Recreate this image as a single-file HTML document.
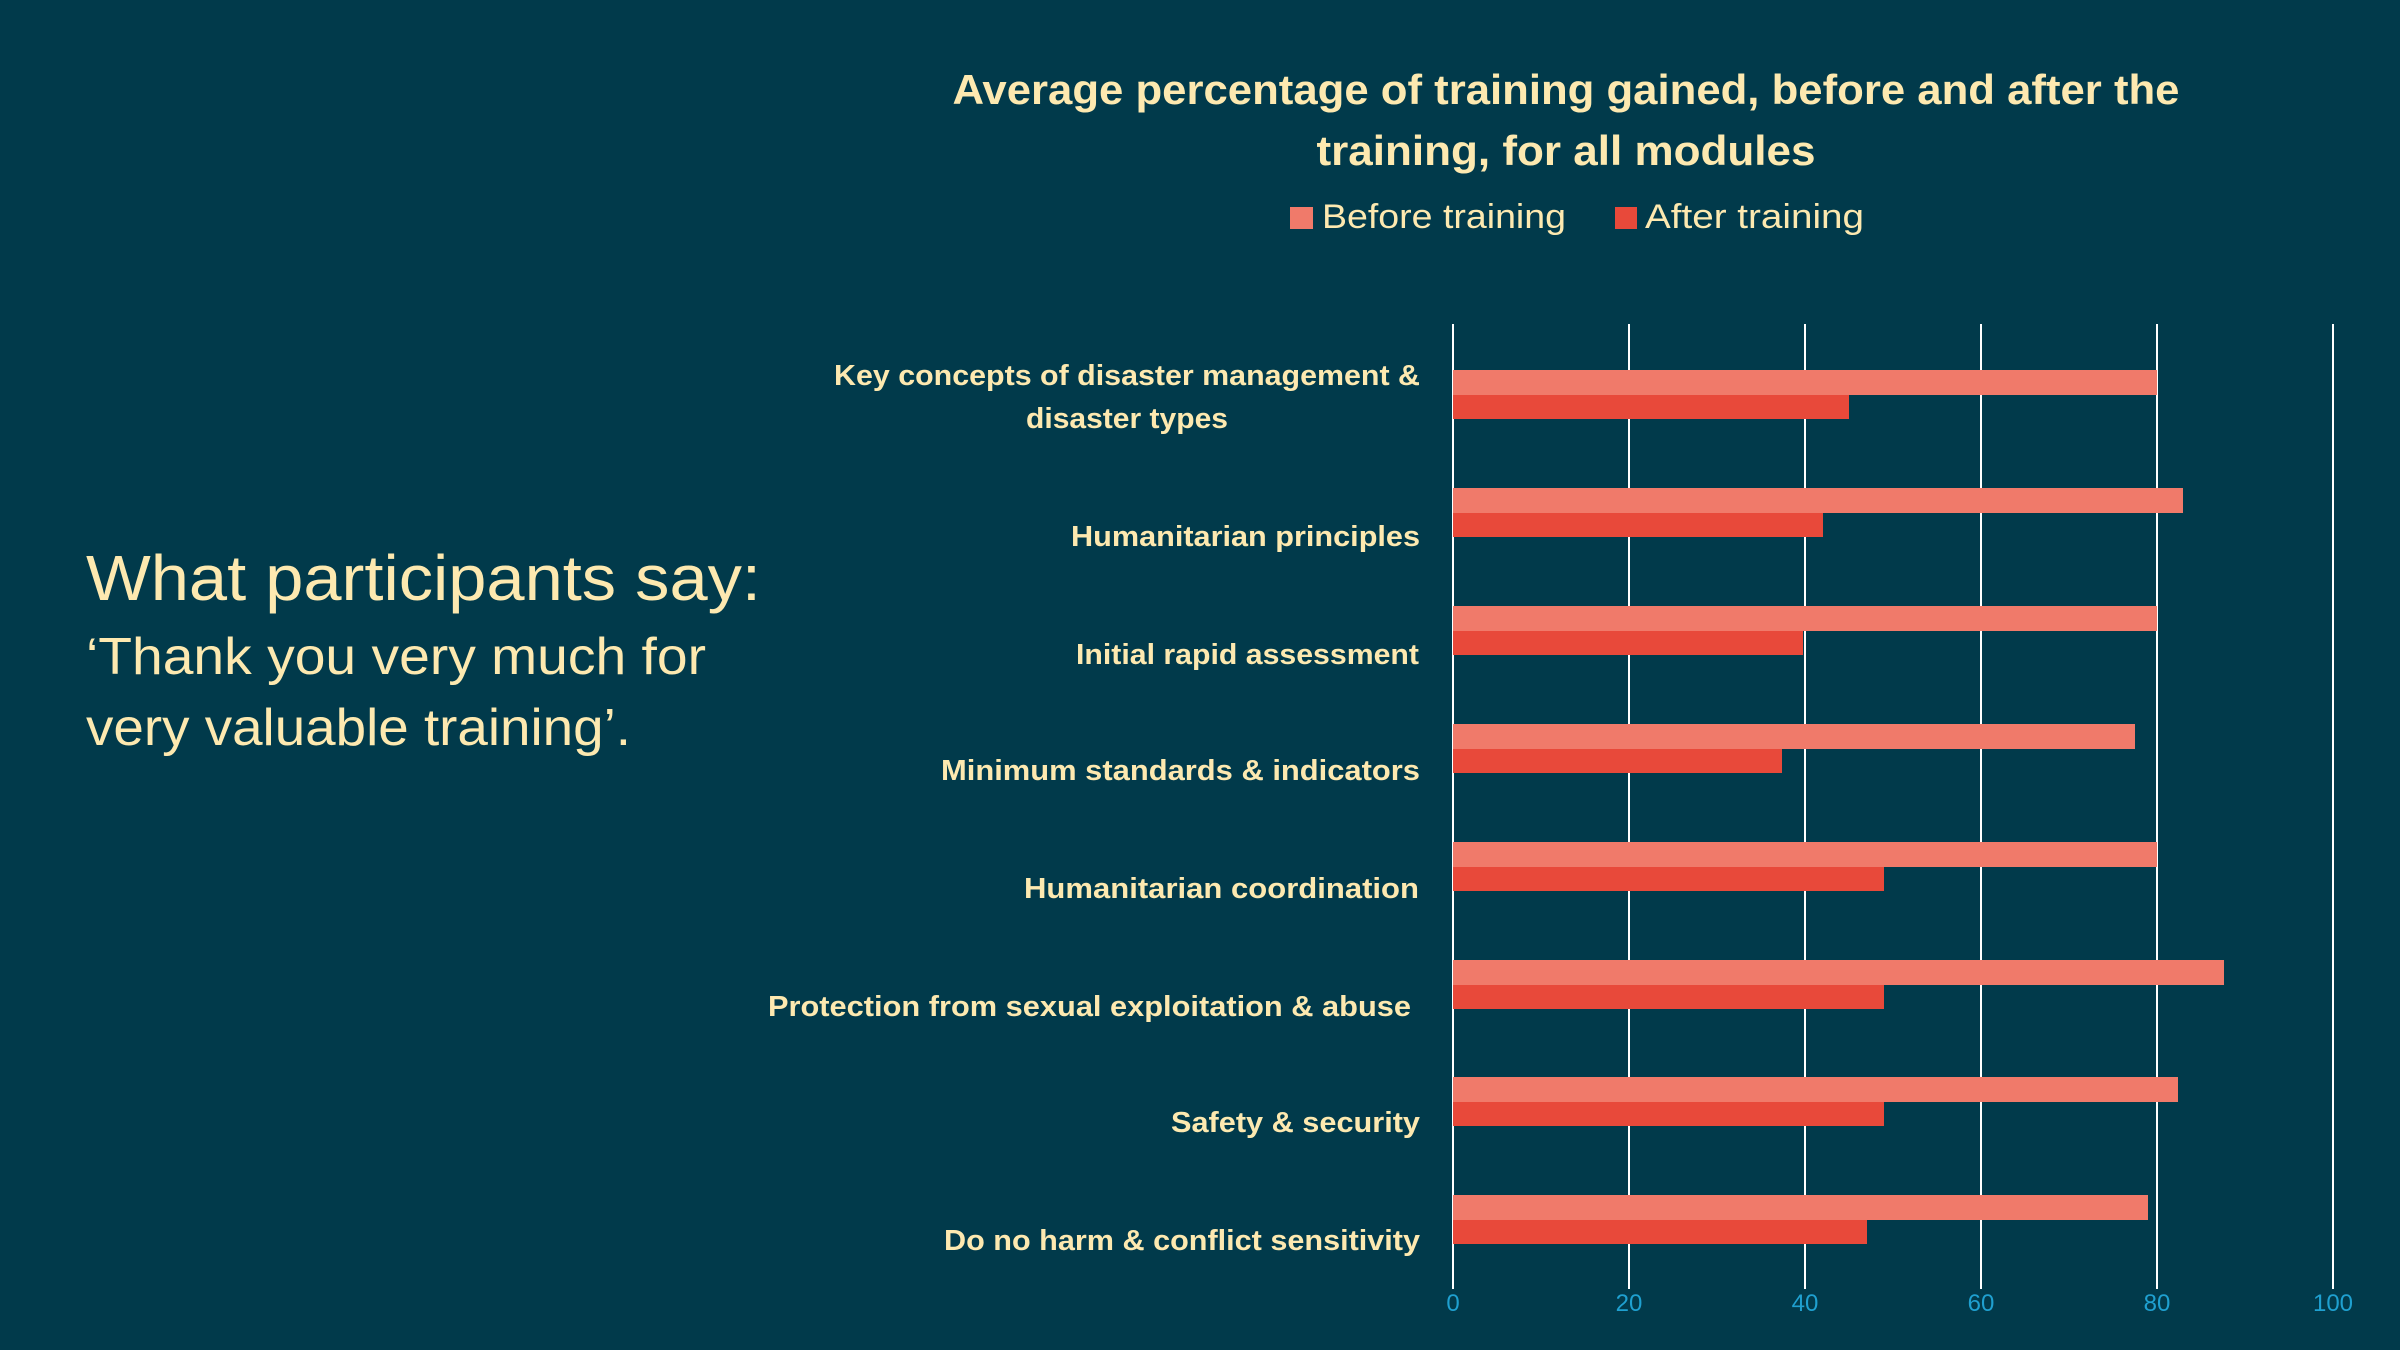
<!DOCTYPE html>
<html><head><meta charset="utf-8"><style>
html,body{margin:0;padding:0;background:#013a4b;}
svg{display:block;font-family:"Liberation Sans",sans-serif;}
</style></head><body>
<svg width="2400" height="1350" viewBox="0 0 2400 1350" xmlns="http://www.w3.org/2000/svg">
<rect width="2400" height="1350" fill="#013a4b"/>
<g fill="#fde9b0" font-weight="bold" font-size="42" text-anchor="middle">
<text x="1566" y="104" textLength="1227" lengthAdjust="spacingAndGlyphs">Average percentage of training gained, before and after the</text>
<text x="1566" y="165" textLength="499" lengthAdjust="spacingAndGlyphs">training, for all modules</text>
</g>
<rect x="1290" y="207" width="23" height="22" fill="#f07a6a"/>
<text x="1322" y="228" fill="#fde9b0" font-size="34" textLength="244" lengthAdjust="spacingAndGlyphs">Before training</text>
<rect x="1615" y="207" width="22" height="22" fill="#e8493a"/>
<text x="1645" y="228" fill="#fde9b0" font-size="34" textLength="219" lengthAdjust="spacingAndGlyphs">After training</text>
<g fill="#fde9b0">
<text x="86" y="600" font-size="64" textLength="675" lengthAdjust="spacingAndGlyphs">What participants say:</text>
<text x="86" y="674" font-size="52" textLength="620" lengthAdjust="spacingAndGlyphs">‘Thank you very much for</text>
<text x="86" y="745" font-size="52" textLength="545" lengthAdjust="spacingAndGlyphs">very valuable training’.</text>
</g>
<g stroke="#ffffff" stroke-width="2">
<line x1="1453" y1="324" x2="1453" y2="1289"/>
<line x1="1629" y1="324" x2="1629" y2="1289"/>
<line x1="1805" y1="324" x2="1805" y2="1289"/>
<line x1="1981" y1="324" x2="1981" y2="1289"/>
<line x1="2157" y1="324" x2="2157" y2="1289"/>
<line x1="2333" y1="324" x2="2333" y2="1289"/>
</g>
<g fill="#1fa0d0" font-size="24" text-anchor="middle">
<text x="1453" y="1311">0</text><text x="1629" y="1311">20</text><text x="1805" y="1311">40</text>
<text x="1981" y="1311">60</text><text x="2157" y="1311">80</text><text x="2333" y="1311">100</text>
</g>
<g>
<rect x="1453" y="370" width="704" height="25" fill="#f07a6a"/><rect x="1453" y="395" width="396" height="24" fill="#e8493a"/>
<rect x="1453" y="488" width="730" height="25" fill="#f07a6a"/><rect x="1453" y="513" width="370" height="24" fill="#e8493a"/>
<rect x="1453" y="606" width="704" height="25" fill="#f07a6a"/><rect x="1453" y="631" width="350" height="24" fill="#e8493a"/>
<rect x="1453" y="724" width="682" height="25" fill="#f07a6a"/><rect x="1453" y="749" width="329" height="24" fill="#e8493a"/>
<rect x="1453" y="842" width="704" height="25" fill="#f07a6a"/><rect x="1453" y="867" width="431" height="24" fill="#e8493a"/>
<rect x="1453" y="960" width="771" height="25" fill="#f07a6a"/><rect x="1453" y="985" width="431" height="24" fill="#e8493a"/>
<rect x="1453" y="1077" width="725" height="25" fill="#f07a6a"/><rect x="1453" y="1102" width="431" height="24" fill="#e8493a"/>
<rect x="1453" y="1195" width="695" height="25" fill="#f07a6a"/><rect x="1453" y="1220" width="414" height="24" fill="#e8493a"/>
</g>
<g fill="#fde9b0" font-weight="bold" font-size="29" text-anchor="end">
<text x="1420" y="385" textLength="586" lengthAdjust="spacingAndGlyphs">Key concepts of disaster management &amp;</text>
<text x="1228" y="428" textLength="202" lengthAdjust="spacingAndGlyphs">disaster types</text>
<text x="1420" y="546" textLength="349" lengthAdjust="spacingAndGlyphs">Humanitarian principles</text>
<text x="1419" y="664" textLength="343" lengthAdjust="spacingAndGlyphs">Initial rapid assessment</text>
<text x="1420" y="780" textLength="479" lengthAdjust="spacingAndGlyphs">Minimum standards &amp; indicators</text>
<text x="1419" y="898" textLength="395" lengthAdjust="spacingAndGlyphs">Humanitarian coordination</text>
<text x="1411" y="1016" textLength="643" lengthAdjust="spacingAndGlyphs">Protection from sexual exploitation &amp; abuse</text>
<text x="1420" y="1132" textLength="249" lengthAdjust="spacingAndGlyphs">Safety &amp; security</text>
<text x="1420" y="1250" textLength="476" lengthAdjust="spacingAndGlyphs">Do no harm &amp; conflict sensitivity</text>
</g>
</svg>
</body></html>
